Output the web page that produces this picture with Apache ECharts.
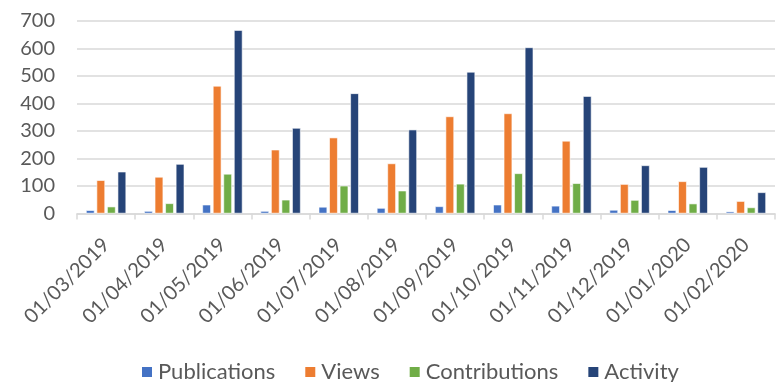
<!DOCTYPE html>
<html>
<head>
<meta charset="utf-8">
<script src="https://cdn.jsdelivr.net/npm/echarts@6/dist/echarts.min.js"></script>
<style>
  html, body { margin: 0; padding: 0; background: #fff; }
  #chart { width: 777px; height: 382px; }
</style>
</head>
<body>
<div id="chart"></div>
<script>
const months = ['01/03/2019', '01/04/2019', '01/05/2019', '01/06/2019', '01/07/2019', '01/08/2019',
  '01/09/2019', '01/10/2019', '01/11/2019', '01/12/2019', '01/01/2020', '01/02/2020']
const publications = [12, 9, 32, 9, 24, 20, 26, 32, 28, 13, 12, 7]
const views = [121, 133, 464, 232, 276, 182, 353, 364, 264, 107, 117, 45]
const contributions = [25, 37, 144, 50, 101, 83, 108, 146, 110, 49, 36, 22]
const activity = [152, 180, 667, 311, 437, 305, 515, 604, 427, 175, 169, 77]

const font = 'Lato, "Open Sans", sans-serif'
const textColor = '#595959'
const gridColor = '#d9d9d9'

function bar(name, data, color) {
  return {
    name: name,
    type: 'bar',
    data: data,
    barWidth: 8.5,
    barGap: '24%',
    itemStyle: { color: color, borderColor: '#ffffff', borderWidth: 0.6 }
  }
}

const chart = echarts.init(document.getElementById('chart'))
chart.setOption({
  animation: false,
  textStyle: { fontFamily: font },
  grid: { left: 77, right: 2, top: 21, bottom: 168.5, containLabel: false },
  legend: {
    top: 356,
    left: 135,
    itemWidth: 12,
    itemHeight: 12,
    itemGap: 28,
    icon: 'rect',
    textStyle: { fontSize: 22, color: textColor, fontFamily: font }
  },
  xAxis: {
    type: 'category',
    data: months,
    axisLine: { lineStyle: { color: gridColor, width: 1.5 } },
    axisTick: { show: true, length: 6, lineStyle: { color: gridColor, width: 1.5 } },
    axisLabel: { rotate: 45, margin: 28, fontSize: 20, color: textColor, fontFamily: font, interval: 0 }
  },
  yAxis: {
    type: 'value',
    min: 0,
    max: 700,
    interval: 100,
    axisLine: { show: false },
    axisTick: { show: false },
    splitLine: { lineStyle: { color: gridColor, width: 1.5 } },
    axisLabel: { margin: 22, fontSize: 20, color: textColor, fontFamily: font }
  },
  series: [
    bar('Publications', publications, '#4472C4'),
    bar('Views', views, '#ED7D31'),
    bar('Contributions', contributions, '#70AD47'),
    bar('Activity', activity, '#264478')
  ]
})
</script>
</body>
</html>
